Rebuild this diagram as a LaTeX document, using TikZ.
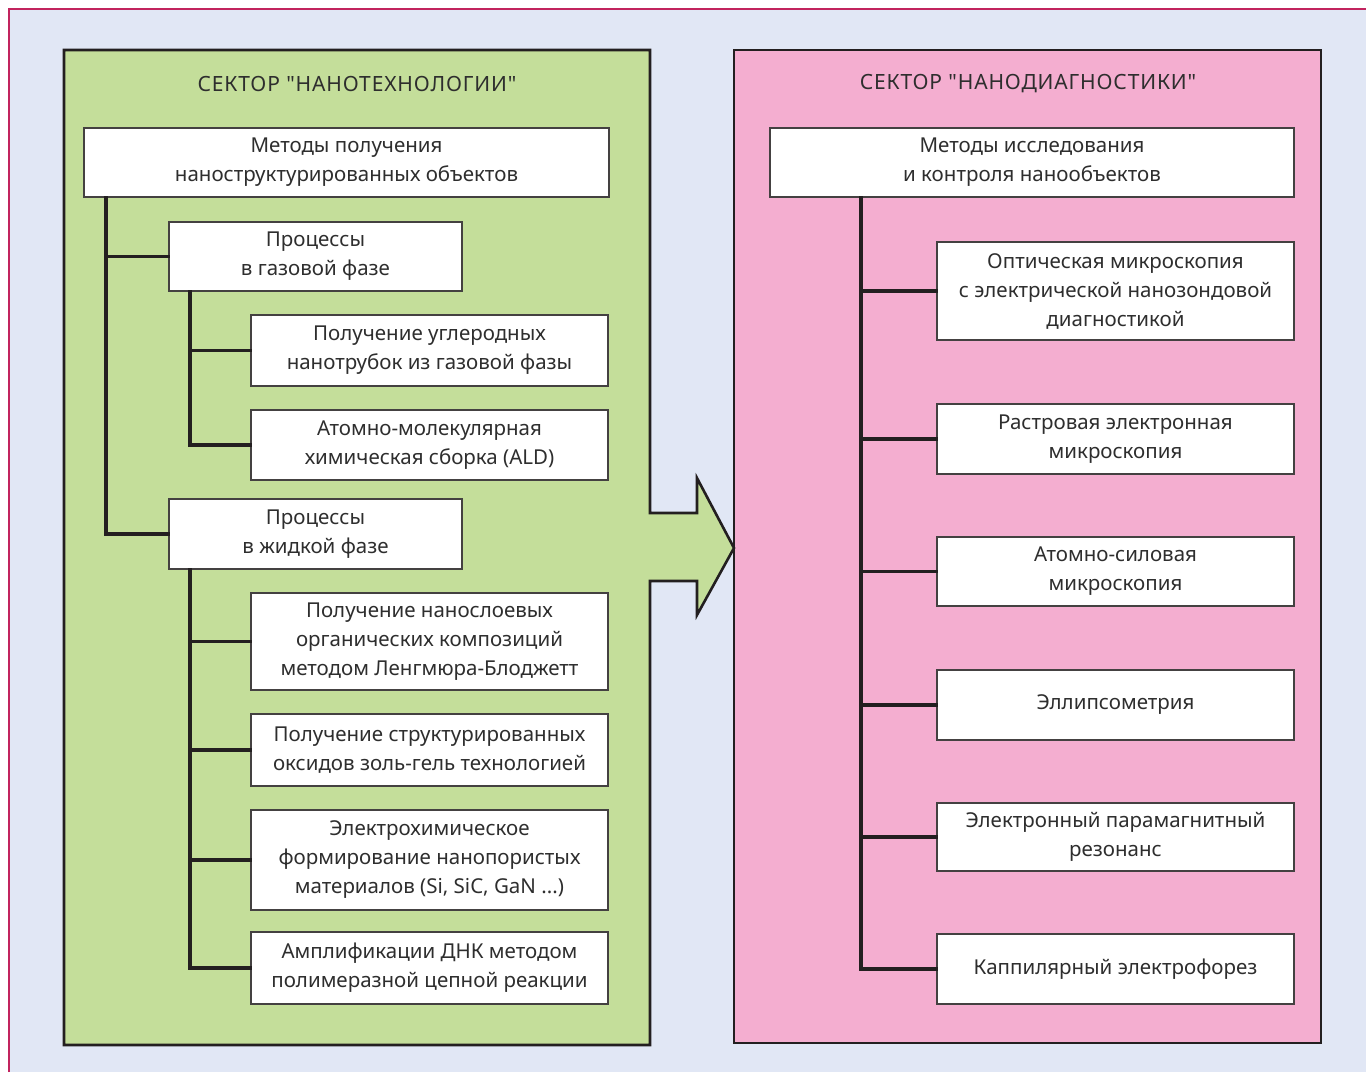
\documentclass[tikz,border=0pt]{standalone}
\usepackage{fontspec}
\setmainfont{Noto Sans}[Ligatures=TeXOff]
\definecolor{bgblue}{HTML}{E1E7F5}
\definecolor{greenp}{HTML}{C4DE9A}
\definecolor{pinkp}{HTML}{F4AED0}
\definecolor{crim}{HTML}{C2245E}
\definecolor{ink}{HTML}{231F20}
\definecolor{txt}{HTML}{2E2E2E}
\tikzset{
  box/.style={draw=ink!85, line width=2pt, fill=white, align=center, inner sep=0pt,
    font=\fontsize{20.5}{29}\selectfont, text=txt},
  conn/.style={draw=ink, line width=3.6pt, line cap=rect},
  panel/.style={draw=ink, line width=2.6pt},
  ttl/.style={font=\fontsize{21}{29}\selectfont\addfontfeature{LetterSpace=4}, text=txt}
}
\begin{document}
\begin{tikzpicture}[x=1pt,y=-1pt]
\useasboundingbox (0,0) rectangle (1366,1072);
\fill[white] (0,0) rectangle (1366,1072);
\fill[bgblue] (9,9) rectangle (1366,1072);
\draw[crim, line width=2pt] (9,1072) -- (9,9) -- (1366,9);
% panels
\draw[panel, fill=pinkp] (734,50) rectangle (1321,1043);
\draw[panel, fill=greenp, line join=miter] (64,50) -- (650,50) -- (650,513) -- (697,513) -- (697,478) -- (734,548) -- (697,615) -- (697,581) -- (650,581) -- (650,1045) -- (64,1045) -- cycle;
% titles
\node[ttl] (tl) at (357,84) {СЕКТОР "НАНОТЕХНОЛОГИИ"};
\node[ttl] (tr) at (1028,84) {СЕКТОР "НАНОДИАГНОСТИКИ"};
% left boxes
\node[box, minimum width=525pt, minimum height=69pt] (m1) at (346.5,162.5) {Методы получения\\наноструктурированных объектов};
\node[box, minimum width=293pt, minimum height=69pt] (gas) at (315.5,256.5) {Процессы\\в газовой фазе};
\node[box, minimum width=357pt, minimum height=71pt] (g1) at (429.5,350.5) {Получение углеродных\\нанотрубок из газовой фазы};
\node[box, minimum width=357pt, minimum height=70pt] (g2) at (429.5,445) {Атомно-молекулярная\\химическая сборка (ALD)};
\node[box, minimum width=293pt, minimum height=70pt] (liq) at (315.5,534) {Процессы\\в жидкой фазе};
\node[box, minimum width=357pt, minimum height=97pt] (l1) at (429.5,641.5) {Получение нанослоевых\\органических композиций\\методом Ленгмюра-Блоджетт};
\node[box, minimum width=357pt, minimum height=72pt] (l2) at (429.5,750) {Получение структурированных\\оксидов золь-гель технологией};
\node[box, minimum width=357pt, minimum height=100pt] (l3) at (429.5,860) {Электрохимическое\\формирование нанопористых\\материалов (Si, SiC, GaN ...)};
\node[box, minimum width=357pt, minimum height=72pt] (l4) at (429.5,968) {Амплификации ДНК методом\\полимеразной цепной реакции};
% right boxes
\node[box, minimum width=524pt, minimum height=69pt] (m2) at (1032,162.5) {Методы исследования\\и контроля нанообъектов};
\node[box, minimum width=357pt, minimum height=98pt] (r1) at (1115.5,291) {Оптическая микроскопия\\с электрической нанозондовой\\диагностикой};
\node[box, minimum width=357pt, minimum height=70pt] (r2) at (1115.5,439) {Растровая электронная\\микроскопия};
\node[box, minimum width=357pt, minimum height=69pt] (r3) at (1115.5,571.5) {Атомно-силовая\\микроскопия};
\node[box, minimum width=357pt, minimum height=70pt] (r4) at (1115.5,705) {Эллипсометрия};
\node[box, minimum width=357pt, minimum height=68pt] (r5) at (1115.5,837) {Электронный парамагнитный\\резонанс};
\node[box, minimum width=357pt, minimum height=70pt] (r6) at (1115.5,969) {Каппилярный электрофорез};
% connectors
\coordinate (t1) at (106,0 |- m1.south);
\coordinate (t2) at (190,0 |- gas.south);
\coordinate (t3) at (190,0 |- liq.south);
\coordinate (t4) at (861,0 |- m2.south);
\draw[conn] (t1) |- (liq.west);
\draw[conn] (t1 |- gas.west) -- (gas.west);
\draw[conn] (t2) |- (g2.west);
\draw[conn] (t2 |- g1.west) -- (g1.west);
\draw[conn] (t3) |- (l4.west);
\foreach \n in {l1,l2,l3} \draw[conn] (t3 |- \n.west) -- (\n.west);
\draw[conn] (t4) |- (r6.west);
\foreach \n in {r1,r2,r3,r4,r5} \draw[conn] (t4 |- \n.west) -- (\n.west);
\end{tikzpicture}
\end{document}
